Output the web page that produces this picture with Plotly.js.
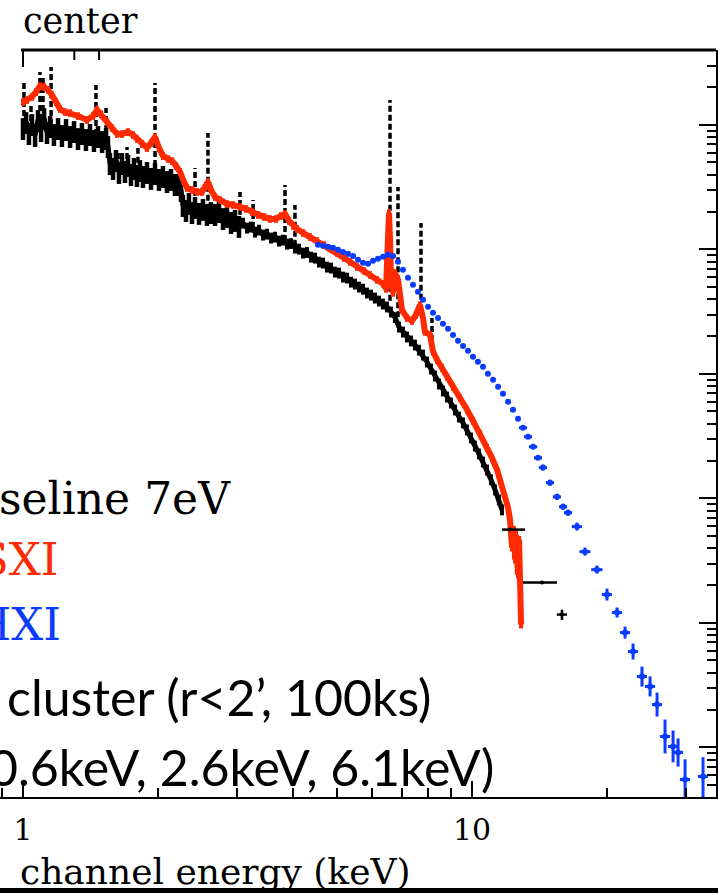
<!DOCTYPE html>
<html><head><meta charset="utf-8">
<script src="https://cdn.plot.ly/plotly-3.0.1.min.js"></script>
<style>html,body{margin:0;padding:0;background:#fff;}#chart{width:718px;height:893px;}</style>
</head><body><div id="chart"></div>
<script>
// SXS (baseline 7eV) spectrum, keV and counts/s/keV
const sxsE = [1.000,1.016,1.031,1.047,1.064,1.080,1.097,1.114,1.131,1.149,
1.172,1.197,1.221,1.247,1.273,1.299,1.326,1.353,1.381,1.410,
1.439,1.469,1.500,1.531,1.546,1.562,1.587,1.611,1.636,1.661,
1.687,1.713,1.740,1.767,1.794,1.822,1.850,1.889,1.928,1.968,
2.008,2.050,2.092,2.136,2.180,2.214,2.248,2.271,2.307,2.342,
2.379,2.416,2.466,2.517,2.569,2.622,2.677,2.732,2.789,2.847,
2.906,2.966,3.027,3.090,3.154,3.219,3.286,3.354,3.424,3.495,
3.567,3.641,3.716,3.793,3.872,3.952,4.034,4.118,4.203,4.290,
4.379,4.470,4.562,4.657,4.753,4.852,4.952,5.055,5.160,5.266,
5.376,5.487,5.601,5.717,5.835,5.956,6.079,6.205,6.334,6.465,
6.599,6.736,6.876,7.018,7.163,7.312,7.463,7.618,7.776,7.937,
8.101,8.269,8.441,8.616,8.794,8.976,9.162,9.352,9.546,9.744,
9.946,10.15,10.36,10.58,10.80,11.02,11.25,11.48,11.66];
const sxsFlux = [0.946,1.057,0.863,1.019,0.831,1.097,0.912,1.138,0.879,0.982,
0.847,0.946,0.831,0.929,0.816,0.895,0.786,0.863,0.772,0.847,
0.758,0.816,0.744,0.786,0.678,0.495,0.452,0.524,0.420,0.495,
0.427,0.478,0.404,0.452,0.397,0.435,0.390,0.420,0.376,0.412,
0.369,0.390,0.355,0.369,0.336,0.336,0.301,0.228,0.208,0.237,
0.200,0.220,0.197,0.212,0.193,0.200,0.193,0.204,0.179,0.186,
0.1666,0.1729,0.1548,0.1635,0.1491,0.1520,0.1384,0.1437,0.1310,0.1334,
0.1240,0.1262,0.1173,0.1194,0.1109,0.1120,0.1030,0.1011,0.0939,0.0950,
0.0872,0.0856,0.0795,0.0781,0.0725,0.0712,0.0661,0.0649,0.0603,0.0592,
0.0549,0.0530,0.0501,0.0482,0.0449,0.0432,0.0409,0.0387,0.0366,0.0347,
0.0316,0.0285,0.0239,0.0218,0.0199,0.0185,0.01715,0.0156,0.01426,0.01253,
0.01101,0.00967,0.00834,0.00733,0.00656,0.00587,0.00516,0.00453,0.00406,0.00357,
0.00308,0.00265,0.00229,0.00197,0.00170,0.00142,0.001177,0.000978,0.000813];
// SXS emission line peaks
const sxsLineE    = [1.005,1.042,1.091,1.108,1.155,1.454,1.531,1.628,1.705,1.803,1.968,2.416,2.582,3.043,3.254,3.833,4.034,6.568,6.842,7.698,8.145];
const sxsLineTop  = [2.174,1.502,2.664,2.384,2.921,2.094,1.369,0.607,0.666,0.654,2.174,0.452,0.863,0.290,0.250,0.330,0.228,1.588,0.318,0.1634,0.0282];
const sxsLineBase = [1.0,0.912,1.097,1.097,1.0,0.831,0.758,0.452,0.452,0.420,0.397,0.228,0.208,0.160,0.149,0.117,0.107,0.0387,0.0285,0.0394,0.0156];
// SXS binned high-energy points
const sxsBinE = [12.15,14.32,15.86];
const sxsBinFlux = [0.000562,0.000211,0.0001168];
const sxsBinEPlus = [0.98,1.14,0.41];
const sxsBinEMinus = [0.49,1.33,0.41];
const sxsBinFluxErr = [0,0,0.0000110];
// SXI spectrum
const sxiE = [1.000,1.021,1.047,1.069,1.091,1.114,1.137,1.160,1.184,1.209,1.240,1.273,1.326,1.388,1.432,1.462,1.492,1.539,1.578,1.620,1.662,1.713,1.758,1.794,1.841,1.889,1.928,1.968,2.009,2.050,2.103,2.147,2.192,2.237,2.284,2.319,2.379,2.441,2.504,2.556,2.582,2.623,2.677,2.747,2.847,2.936,3.043,3.139,3.236,3.338,3.442,3.549,3.660,3.755,3.833,3.913,3.994,4.077,4.204,4.356,4.516,4.682,4.853,5.004,5.187,5.349,5.545,5.748,5.928,6.145,6.336,6.435,6.501,6.534,6.568,6.602,6.669,6.738,6.842,6.913,6.984,7.164,7.350,7.502,7.658,7.777,7.857,8.064,8.189,8.358,8.576,8.798,9.072,9.404,9.748,10.05,10.42,10.80,11.08,11.37,11.60,11.85,12.03,12.15,12.28,12.40,12.47,12.53,12.66,12.73,12.79,12.86];
const sxiFlux = [1.53,1.588,1.678,1.840,2.056,2.018,1.910,1.741,1.53,1.344,1.272,1.248,1.181,1.097,1.181,1.319,1.225,1.057,0.946,0.847,0.847,0.879,0.831,0.772,0.704,0.654,0.717,0.801,0.654,0.564,0.534,0.514,0.469,0.420,0.349,0.312,0.301,0.290,0.290,0.324,0.349,0.301,0.264,0.250,0.232,0.228,0.220,0.212,0.2003,0.1895,0.1827,0.1760,0.1760,0.1861,0.1931,0.1697,0.1547,0.1463,0.1359,0.1262,0.1172,0.1089,0.1011,0.0939,0.0856,0.0795,0.0725,0.0673,0.0625,0.0570,0.0530,0.0483,0.0993,0.1967,0.1194,0.0550,0.0448,0.0649,0.0570,0.0394,0.0327,0.0282,0.0267,0.0299,0.0359,0.0282,0.0218,0.0206,0.0151,0.0130,0.01121,0.00950,0.00789,0.00644,0.00516,0.00421,0.00331,0.00256,0.00212,0.00170,0.00134,0.00103,0.000844,0.000676,0.000403,0.000562,0.000323,0.000512,0.000245,0.000467,0.000185,0.0000971];
// HXI spectrum
const hxiE = [4.539,4.657,4.778,4.901,5.030,5.160,5.294,5.433,5.574,5.717,5.867,6.019,6.175,6.334,6.499,6.670,6.843,7.018,7.202,7.389,7.580,7.778,7.980,8.188,8.400,8.616,8.842,9.072,9.307,9.550,9.797,10.05,10.31,10.58,10.85,11.14,11.43,11.72,12.03,12.34,12.66,12.99,13.33,13.68,14.03,14.39,14.92,15.46,15.95,16.36,17.13,17.85,18.98,19.98,21.04,21.92,22.84,23.91,24.92,25.83,26.91,28.04,28.77,29.82,32.70];
const hxiFlux = [0.1089,0.1069,0.1049,0.1030,0.0993,0.0956,0.0922,0.0888,0.0826,0.0781,0.0766,0.0810,0.0841,0.0872,0.0905,0.0888,0.0795,0.0686,0.0592,0.0520,0.0457,0.0394,0.0346,0.0310,0.0282,0.0253,0.0231,0.0206,0.0185,0.0168,0.01535,0.01374,0.01253,0.01142,0.01004,0.00898,0.00789,0.00694,0.00598,0.00516,0.00437,0.00370,0.00313,0.00260,0.00212,0.00177,0.00134,0.00103,0.000859,0.000769,0.000594,0.000374,0.000268,0.000169,0.0001212,0.0000837,0.0000590,0.0000371,0.0000309,0.0000221,0.00001225,0.00001019,0.00000912,0.00000553,0.00000585];
const hxiEErr = [0,0,0,0,0,0,0,0,0,0,0,0,0,0,0,0,0,0,0,0,0,0,0,0,0,0,0,0,0,0,0,0,0,0,0,0,0,0,0,0,0,
0.27,0.28,0.29,0.29,0.30,0.31,0.32,0.33,0.34,0.45,0.50,0.55,0.52,0.55,0.57,0.59,0.62,0.65,0.67,0.70,0.73,0.75,0.78,0.85];
const hxiFluxErrUp = [0,0,0,0,0,0,0,0,0,0,0,0,0,0,0,0,0,0,0,0,0,0,0,0,0,0,0,0,0,0,0,0,0,0,0,0,0,0,0,0,0,0,0,0,0,
0.0001,0.000076,0.000059,0.000049,0.000044,0.000046,0.000029,0.000021,0.0000198,0.0000118,0.0000098,0.0000094,0.0000075,0.0000063,0.0000055,0.0000045,0.0000035,0.0000027,0.0000025,0.0000025];
const hxiFluxErrDn = [0,0,0,0,0,0,0,0,0,0,0,0,0,0,0,0,0,0,0,0,0,0,0,0,0,0,0,0,0,0,0,0,0,0,0,0,0,0,0,0,0,0,0,0,0,
0.000096,0.000072,0.000056,0.000046,0.000042,0.000042,0.000027,0.000019,0.0000177,0.0000107,0.0000088,0.0000081,0.0000063,0.0000052,0.0000044,0.0000033,0.0000026,0.0000021,0.0000050,0.0000048];
// axis ticks
const xMajorTicks = [1, 10];
const xMajorLabels = ['1', '10'];
const xMinorTicks = [0.9, 2, 3, 4, 5, 6, 7, 8, 9, 20, 30];
const yMajorTicks = [1e-5, 1e-4, 1e-3, 1e-2, 1e-1, 1];

const RED = '#ff2a00', BLUE = '#0a3cff';
const yMinorTicks = [];
for (let d = -6; d <= 0; d++) for (let k = 2; k <= 9; k++) yMinorTicks.push(k * Math.pow(10, d));

const spikeX = [], spikeY = [];
sxsLineE.forEach((e, i) => { spikeX.push(e, e, null); spikeY.push(sxsLineBase[i], sxsLineTop[i], null); });

// split SXS band into soft (noisier) and hard part
const soft = sxsE.map((e, i) => i).filter(i => sxsE[i] < 3.05);
const hard = sxsE.map((e, i) => i).filter(i => sxsE[i] >= 3.0);
const pick = (arr, idx) => idx.map(i => arr[i]);

const traces = [
  {x: pick(sxsE, soft), y: pick(sxsFlux, soft), mode: 'lines', line: {color: '#000', width: 5},
   error_y: {type: 'percent', value: 20, color: '#000', thickness: 4.5, width: 0}, hoverinfo: 'skip'},
  {x: pick(sxsE, hard), y: pick(sxsFlux, hard), mode: 'lines', line: {color: '#000', width: 5},
   error_y: {type: 'percent', value: 10, color: '#000', thickness: 4, width: 0}, hoverinfo: 'skip'},
  {x: spikeX, y: spikeY, mode: 'lines', line: {color: '#000', width: 3.5, dash: '6px,3px'}, hoverinfo: 'skip'},
  {x: sxiE, y: sxiFlux, mode: 'lines', line: {color: RED, width: 6},
   error_y: {type: 'percent', value: 7, color: RED, thickness: 4, width: 0}, hoverinfo: 'skip'},
  {x: hxiE, y: hxiFlux, mode: 'markers', marker: {color: BLUE, size: 6, symbol: 'circle'},
   error_x: {type: 'data', array: hxiEErr, color: BLUE, thickness: 3, width: 0},
   error_y: {type: 'data', array: hxiFluxErrUp, arrayminus: hxiFluxErrDn, color: BLUE, thickness: 3, width: 0}, hoverinfo: 'skip'},
  {x: sxsBinE, y: sxsBinFlux, mode: 'markers', marker: {color: '#000', size: 4},
   error_x: {type: 'data', array: sxsBinEPlus, arrayminus: sxsBinEMinus, color: '#000', thickness: 2.5, width: 0},
   error_y: {type: 'data', array: sxsBinFluxErr, color: '#000', thickness: 2.5, width: 0}, hoverinfo: 'skip'}
];

const W = 716, H = 747;
const px = v => v / W;            // horizontal pixel -> paper
const py = v => (797 - v) / H;    // vertical pixel -> paper

// top frame edge with its ticks (mirrors the bottom axis); shape x on log axes is log10
const topShapes = [{type: 'rect', xref: 'paper', yref: 'paper', x0: px(21), x1: 1, y0: py(51.5), y1: py(48.5), fillcolor: '#000', line: {width: 0}, layer: 'above'}];
xMajorTicks.forEach(v => topShapes.push({type: 'line', xref: 'x', yref: 'paper', x0: Math.log10(v), x1: Math.log10(v), y0: py(50), y1: py(67), line: {color: '#000', width: 2}, layer: 'above'}));
xMinorTicks.forEach(v => topShapes.push({type: 'line', xref: 'x', yref: 'paper', x0: Math.log10(v), x1: Math.log10(v), y0: py(50), y1: py(60), line: {color: '#000', width: 2}, layer: 'above'}));

const layout = {
  width: 718, height: 893,
  margin: {l: 0, r: 2, t: 50, b: 96, pad: 0},
  paper_bgcolor: '#fff', plot_bgcolor: '#fff',
  showlegend: false,
  xaxis: {
    type: 'log', range: [-0.0512, 1.5434], autorange: false,
    showline: true, linewidth: 2, linecolor: '#000', mirror: false,
    ticks: 'inside', ticklen: 16, tickwidth: 2, tickcolor: '#000',
    tickmode: 'array', tickvals: xMajorTicks, ticktext: xMajorLabels, ticklabelstandoff: 5,
    tickfont: {family: 'DejaVu Serif', size: 30, color: '#000'},
    minor: {tickmode: 'array', tickvals: xMinorTicks, ticks: 'inside', ticklen: 9, tickwidth: 2, tickcolor: '#000', showgrid: false},
    showgrid: false, zeroline: false, automargin: false
  },
  yaxis: {
    type: 'log', range: [Math.log10(4e-6), Math.log10(4)], autorange: false,
    side: 'right', showline: true, linewidth: 2, linecolor: '#000', mirror: false,
    ticks: 'inside', ticklen: 17, tickwidth: 2, tickcolor: '#000',
    tickmode: 'array', tickvals: yMajorTicks, showticklabels: false,
    minor: {tickmode: 'array', tickvals: yMinorTicks, ticks: 'inside', ticklen: 9, tickwidth: 2, tickcolor: '#000', showgrid: false},
    showgrid: false, zeroline: false, automargin: false
  },
  shapes: topShapes.concat([
    {type: 'rect', xref: 'paper', yref: 'paper', x0: -0.01, x1: px(21), y0: py(78), y1: py(40), fillcolor: '#fff', line: {width: 0}, layer: 'above'},
    {type: 'rect', xref: 'paper', yref: 'paper', x0: -0.01, x1: 1.01, y0: py(900), y1: py(888), fillcolor: '#000', line: {width: 0}, layer: 'above'}
  ]),
  annotations: [
    {text: 'center', xref: 'paper', yref: 'paper', x: px(21), y: py(21), xanchor: 'left', yanchor: 'middle', showarrow: false,
     font: {family: 'DejaVu Serif', size: 35, color: '#000'}},
    {text: 'seline 7eV', xref: 'paper', yref: 'paper', x: px(233), y: py(499), xanchor: 'right', yanchor: 'middle', showarrow: false,
     font: {family: 'DejaVu Serif', size: 44, color: '#000'}},
    {text: 'SXI', xref: 'paper', yref: 'paper', x: px(61), y: py(559), xanchor: 'right', yanchor: 'middle', showarrow: false,
     font: {family: 'DejaVu Serif', size: 45, color: RED}},
    {text: 'HXI', xref: 'paper', yref: 'paper', x: px(63), y: py(624), xanchor: 'right', yanchor: 'middle', showarrow: false,
     font: {family: 'DejaVu Serif', size: 45, color: BLUE}},
    {text: 'cluster (r&lt;2’, 100ks)', xref: 'paper', yref: 'paper', x: px(433), y: py(697), xanchor: 'right', yanchor: 'middle', showarrow: false,
     font: {family: 'Lato', size: 50, color: '#000'}},
    {text: '0.6keV, 2.6keV, 6.1keV)', xref: 'paper', yref: 'paper', x: px(496), y: py(767), xanchor: 'right', yanchor: 'middle', showarrow: false,
     font: {family: 'Lato', size: 50, color: '#000'}},
    {text: 'channel energy (keV)', xref: 'paper', yref: 'paper', x: px(215), y: py(872), xanchor: 'center', yanchor: 'middle', showarrow: false,
     font: {family: 'DejaVu Serif', size: 36, color: '#000'}}
  ]
};

Plotly.newPlot('chart', traces, layout, {staticPlot: true, displayModeBar: false});
</script></body></html>
